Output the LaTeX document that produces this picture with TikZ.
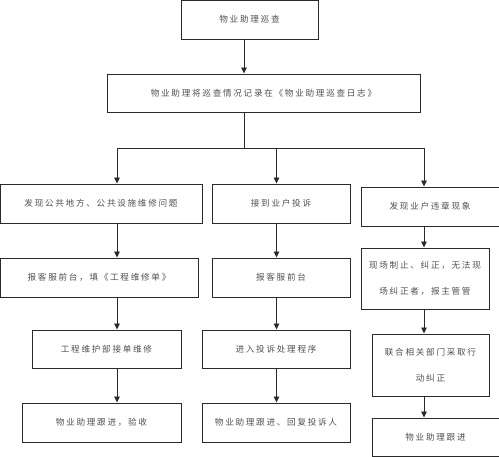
\documentclass[tikz,border=0pt]{standalone}
\usepackage{fontspec}
\newfontfamily\cjk[LetterSpace=20]{Noto Sans CJK SC}
\usetikzlibrary{arrows.meta}
\definecolor{linec}{HTML}{2A2A2A}
\definecolor{textc}{HTML}{505050}
\tikzset{
  box/.style={draw=linec, line width=0.9pt, inner sep=0pt, align=center,
    text=textc, font=\cjk\fontsize{8.6}{26}\selectfont},
  arr/.style={draw=linec, line width=0.9pt, -{Triangle[width=5.5pt,length=6pt]}},
  ln/.style={draw=linec, line width=0.9pt},
}
\newcommand\bx[6]{\node[box, minimum width={(#4-#2)*1pt}, minimum height={(#5-#3)*1pt}]
  (#1) at ({(#2+#4)/2},{-(#3+#5)/2}) {#6};}
\begin{document}
\begin{tikzpicture}[x=1pt,y=1pt]
\useasboundingbox (0,0) rectangle (499,-457);
\bx{B1}{181}{0}{318}{39}{物业助理巡查}
\bx{B2}{107}{74}{420}{112}{物业助理将巡查情况记录在《物业助理巡查日志》}
\bx{L1}{0}{184}{202}{223}{发现公共地方、公共设施维修问题}
\bx{M1}{212}{184}{350}{223}{接到业户投诉}
\bx{R1}{361}{187}{499}{226}{发现业户违章现象}
\bx{L2}{0}{258}{198}{297}{报客服前台，填《工程维修单》}
\bx{M2}{212}{258}{350}{297}{报客服前台}
\bx{R2}{361}{248}{489}{309}{现场制止、纠正，无法现\\场纠正者，报主管管}
\bx{L3}{32}{330}{181}{368}{工程维护部接单维修}
\bx{M3}{202}{330}{350}{368}{进入投诉处理程序}
\bx{R3}{372}{334}{489}{396}{联合相关部门采取行\\动纠正}
\bx{L4}{22}{403}{181}{442}{物业助理跟进，验收}
\bx{M4}{202}{403}{350}{442}{物业助理跟进、回复投诉人}
\bx{R4}{372}{418}{499}{456}{物业助理跟进}
\coordinate (cT) at (244,0);
\coordinate (cL) at (117,0);
\coordinate (cM) at (276.5,0);
\coordinate (cR) at (424,0);
\coordinate (J) at (244,-148);
\coordinate (JL) at (117,-148);
\coordinate (JR) at (424,-148);
\draw[arr] (B1.south -| cT) -- (B2.north -| cT);
\draw[ln] (B2.south -| cT) -- (J);
\draw[ln] (JL) -- (JR);
\draw[arr] (JL) -- (L1.north -| cL);
\draw[arr] (J -| cM) -- (M1.north -| cM);
\draw[arr] (JR) -- (R1.north -| cR);
\draw[arr] (L1.south -| cL) -- (L2.north -| cL);
\draw[arr] (L2.south -| cL) -- (L3.north -| cL);
\draw[arr] (L3.south -| cL) -- (L4.north -| cL);
\draw[arr] (M1.south -| cM) -- (M2.north -| cM);
\draw[arr] (M2.south -| cM) -- (M3.north -| cM);
\draw[arr] (M3.south -| cM) -- (M4.north -| cM);
\draw[arr] (R1.south -| cR) -- (R2.north -| cR);
\draw[arr] (R2.south -| cR) -- (R3.north -| cR);
\draw[arr] (R3.south -| cR) -- (R4.north -| cR);
\end{tikzpicture}
\end{document}
